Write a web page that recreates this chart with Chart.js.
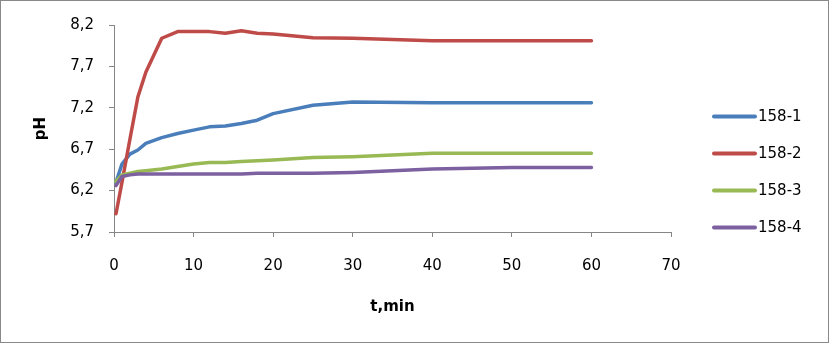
<!DOCTYPE html>
<html>
<head>
<meta charset="utf-8">
<script src="https://cdn.jsdelivr.net/npm/chart.js@4/dist/chart.umd.min.js"></script>
<style>
  html, body { margin: 0; padding: 0; background: #ffffff; }
  #wrap { width: 830px; height: 344px; position: relative; }
</style>
</head>
<body>
<div id="wrap"><canvas id="c" width="830" height="344"></canvas></div>
<script>
// ---- data ----
const timeMin = [0.25, 1, 2, 3, 4, 6, 8, 10, 12, 14, 16, 18, 20, 25, 30, 40, 50, 60];
const seriesNames = ['158-1', '158-2', '158-3', '158-4'];
const ph158_1 = [6.30, 6.52, 6.64, 6.69, 6.77, 6.84, 6.89, 6.93, 6.97, 6.98, 7.01, 7.05, 7.13, 7.23, 7.27, 7.26, 7.26, 7.26];
const ph158_2 = [5.92, 6.30, 6.82, 7.33, 7.63, 8.04, 8.12, 8.12, 8.12, 8.10, 8.13, 8.10, 8.09, 8.045, 8.04, 8.01, 8.01, 8.01];
const ph158_3 = [6.31, 6.39, 6.41, 6.43, 6.44, 6.46, 6.49, 6.52, 6.54, 6.54, 6.55, 6.56, 6.57, 6.60, 6.61, 6.65, 6.65, 6.65];
const ph158_4 = [6.26, 6.37, 6.39, 6.40, 6.40, 6.40, 6.40, 6.40, 6.40, 6.40, 6.40, 6.41, 6.41, 6.41, 6.42, 6.46, 6.48, 6.48];
const xTickValues = [0, 10, 20, 30, 40, 50, 60, 70];
const yTickValues = [5.7, 6.2, 6.7, 7.2, 7.7, 8.2];
const yTickLabels = ['5,7', '6,2', '6,7', '7,2', '7,7', '8,2'];
const xTitle = 't,min';
const yTitle = 'pH';

// ---- styles ----
const colors = ['#4A7EBB', '#BE4B48', '#98B954', '#7D60A0'];
const allSeries = [ph158_1, ph158_2, ph158_3, ph158_4];
const axisColor = '#868686';
const FONT = 'DejaVu Sans';

const datasets = allSeries.map((vals, i) => ({
  label: seriesNames[i],
  data: timeMin.map((t, k) => ({ x: t, y: vals[k] })),
  borderColor: colors[i],
  backgroundColor: colors[i],
  borderWidth: 3.5,
  pointRadius: 0,
  tension: 0,
  borderJoinStyle: 'round',
  borderCapStyle: 'round',
  order: allSeries.length - i
}));

const framePlugin = {
  id: 'frameAndLegend',
  afterDraw(chart) {
    const ctx = chart.ctx;
    const area = chart.chartArea;
    ctx.save();
    // outer frame
    ctx.strokeStyle = '#898989';
    ctx.lineWidth = 1;
    ctx.strokeRect(0.5, 0.5, 828, 342);
    // legend
    const x0 = area.right + 43;
    const lineLen = 41;
    const rowH = 37;
    const y0 = 116.5;
    ctx.font = '15px "' + FONT + '"';
    ctx.textBaseline = 'middle';
    ctx.textAlign = 'left';
    chart.data.datasets.forEach((ds, i) => {
      const y = y0 + i * rowH;
      ctx.strokeStyle = ds.borderColor;
      ctx.lineWidth = 4;
      ctx.lineCap = 'round';
      ctx.beginPath();
      ctx.moveTo(x0, y);
      ctx.lineTo(x0 + lineLen, y);
      ctx.stroke();
      ctx.fillStyle = '#000000';
      ctx.fillText(ds.label, x0 + lineLen + 3, y + 1);
    });
    ctx.restore();
  }
};

new Chart(document.getElementById('c'), {
  type: 'line',
  data: { datasets },
  plugins: [framePlugin],
  options: {
    responsive: false,
    animation: false,
    devicePixelRatio: 1,
    layout: { padding: { top: 25, right: 159, bottom: 2, left: 0 } },
    plugins: {
      legend: { display: false },
      tooltip: { enabled: false },
      title: { display: false }
    },
    scales: {
      x: {
        type: 'linear',
        min: 0,
        max: 70,
        afterBuildTicks: s => { s.ticks = xTickValues.map(v => ({ value: v })); },
        afterFit: s => { s.height = 110; },
        grid: { drawOnChartArea: false, drawTicks: true, tickLength: 5, color: axisColor },
        border: { color: axisColor, width: 1 },
        ticks: {
          font: { family: FONT, size: 15 },
          color: '#000000',
          padding: 20,
          maxRotation: 0,
          autoSkip: false,
          callback: v => String(v)
        },
        title: {
          display: true,
          text: xTitle,
          font: { family: FONT, size: 15, weight: 'bold' },
          color: '#000000',
          padding: { top: 10, bottom: 26 }
        }
      },
      y: {
        type: 'linear',
        min: 5.7,
        max: 8.2,
        afterBuildTicks: s => { s.ticks = yTickValues.map(v => ({ value: v })); },
        afterFit: s => { s.width = 114; },
        grid: { drawOnChartArea: false, drawTicks: true, tickLength: 5, color: axisColor },
        border: { color: axisColor, width: 1 },
        ticks: {
          font: { family: FONT, size: 15 },
          color: '#000000',
          padding: 15,
          autoSkip: false,
          callback: v => {
            const idx = yTickValues.findIndex(t => Math.abs(t - v) < 1e-6);
            return idx >= 0 ? yTickLabels[idx] : '';
          }
        },
        title: {
          display: true,
          text: yTitle,
          font: { family: FONT, size: 15, weight: 'bold' },
          color: '#000000',
          padding: { top: 32, bottom: 0 }
        }
      }
    }
  }
});
</script>
</body>
</html>
